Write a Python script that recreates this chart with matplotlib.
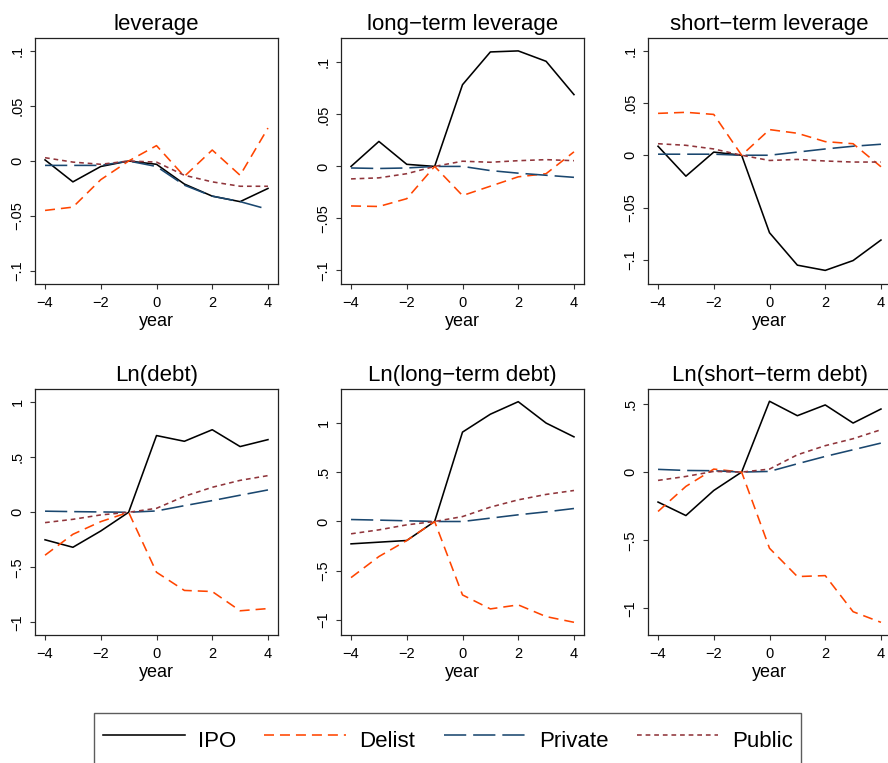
import matplotlib
matplotlib.use("Agg")
import matplotlib.pyplot as plt

plt.rcParams['font.family'] = ['Liberation Sans', 'DejaVu Sans']
plt.rcParams['lines.scale_dashes'] = False

years = [-4, -3, -2, -1, 0, 1, 2, 3, 4]
series_names = ["IPO", "Delist", "Private", "Public"]

# leverage
lev_ipo     = [0.001, -0.019, -0.005, 0.0, -0.003, -0.021, -0.032, -0.037, -0.025]
lev_delist  = [-0.045, -0.042, -0.017, 0.0, 0.014, -0.014, 0.010, -0.013, 0.030]
lev_private = [-0.004, -0.004, -0.004, 0.0, -0.005, -0.022, -0.032, -0.037, -0.044]
lev_public  = [0.003, -0.001, -0.003, 0.0, -0.001, -0.013, -0.019, -0.023, -0.023]

# long-term leverage
ltl_ipo     = [0.0, 0.024, 0.002, 0.0, 0.0785, 0.110, 0.111, 0.101, 0.069]
ltl_delist  = [-0.038, -0.0385, -0.031, 0.0, -0.028, -0.019, -0.010, -0.007, 0.014]
ltl_private = [-0.0015, -0.002, -0.0015, 0.0, 0.0, -0.004, -0.0065, -0.0085, -0.0105]
ltl_public  = [-0.012, -0.011, -0.007, 0.0, 0.005, 0.004, 0.0055, 0.0065, 0.0055]

# short-term leverage
stl_ipo     = [0.0086, -0.020, 0.003, 0.0, -0.074, -0.105, -0.110, -0.1006, -0.081]
stl_delist  = [0.040, 0.041, 0.039, 0.0, 0.0245, 0.021, 0.013, 0.011, -0.011]
stl_private = [0.001, 0.001, 0.001, 0.0, 0.0, 0.003, 0.006, 0.0086, 0.0105]
stl_public  = [0.011, 0.0095, 0.006, 0.0, -0.005, -0.004, -0.0055, -0.0065, -0.0065]

# Ln(debt)
ld_ipo     = [-0.25, -0.318, -0.17, 0.0, 0.697, 0.645, 0.75, 0.597, 0.66]
ld_delist  = [-0.39, -0.20, -0.085, 0.0, -0.545, -0.71, -0.72, -0.895, -0.875]
ld_private = [0.01, 0.006, 0.003, 0.0, 0.012, 0.06, 0.106, 0.155, 0.203]
ld_public  = [-0.094, -0.064, -0.024, 0.0, 0.036, 0.145, 0.227, 0.29, 0.333]

# Ln(long-term debt)
lld_ipo     = [-0.227, -0.21, -0.193, 0.0, 0.908, 1.09, 1.217, 1.0, 0.86]
lld_delist  = [-0.57, -0.356, -0.193, 0.0, -0.746, -0.888, -0.847, -0.966, -1.024]
lld_private = [0.02, 0.014, 0.007, 0.0, 0.0, 0.034, 0.068, 0.098, 0.132]
lld_public  = [-0.125, -0.085, -0.034, 0.0, 0.05, 0.146, 0.22, 0.275, 0.315]

# Ln(short-term debt)
lsd_ipo     = [-0.22, -0.319, -0.135, 0.0, 0.52, 0.414, 0.493, 0.36, 0.463]
lsd_delist  = [-0.289, -0.105, 0.022, 0.0, -0.559, -0.767, -0.76, -1.025, -1.103]
lsd_private = [0.02, 0.012, 0.01, 0.0, 0.005, 0.061, 0.115, 0.164, 0.213]
lsd_public  = [-0.061, -0.032, 0.005, 0.0, 0.022, 0.127, 0.194, 0.245, 0.311]

titles = ["leverage", "long\u2212term leverage", "short\u2212term leverage",
          "Ln(debt)", "Ln(long\u2212term debt)", "Ln(short\u2212term debt)"]

xticks = [-4, -2, 0, 2, 4]
xtick_labels = ["\u22124", "\u22122", "0", "2", "4"]
yticks_small = [-0.1, -0.05, 0, 0.05, 0.1]
ytick_labels_small = ["\u2212.1", "\u2212.05", "0", ".05", ".1"]
yticks_big = [-1, -0.5, 0, 0.5, 1]
ytick_labels_big = ["\u22121", "\u2212.5", "0", ".5", "1"]

panels = [
    (lev_ipo, lev_delist, lev_private, lev_public),
    (ltl_ipo, ltl_delist, ltl_private, ltl_public),
    (stl_ipo, stl_delist, stl_private, stl_public),
    (ld_ipo, ld_delist, ld_private, ld_public),
    (lld_ipo, lld_delist, lld_private, lld_public),
    (lsd_ipo, lsd_delist, lsd_private, lsd_public),
]

ylims = [(-0.112, 0.112), (-0.113, 0.1234), (-0.123, 0.112),
         (-1.115, 1.12), (-1.153, 1.346), (-1.196, 0.61)]

colors = ["#000000", "#FF4500", "#1A476F", "#90353B"]
dashes = [None, (7.2, 4.3), (16, 5), (3.4, 2.8)]
lw = 1.15

W, H = 888, 763
fig = plt.figure(figsize=(W / 100, H / 100), dpi=100)

col_left = [35, 341, 648]
row_top = [38, 389]
aw, ah = 243, 246

handles = []
for i, data in enumerate(panels):
    r, c = divmod(i, 3)
    left = col_left[c] / W
    bottom = 1 - (row_top[r] + ah) / H
    ax = fig.add_axes([left, bottom, aw / W, ah / H])
    for k, (vals, col, d) in enumerate(zip(data, colors, dashes)):
        ln, = ax.plot(years, vals, color=col, lw=lw, label=series_names[k])
        if d is not None:
            ln.set_dashes(d)
        if i == 0:
            handles.append(ln)
    ax.set_xlim(-4.36, 4.36)
    ax.set_xticks(xticks)
    ax.set_xticklabels(xtick_labels, fontsize=10.5)
    if r == 0:
        ax.set_yticks(yticks_small)
        ax.set_yticklabels(ytick_labels_small, fontsize=10.5, rotation=90, va='center')
    else:
        ax.set_yticks(yticks_big)
        ax.set_yticklabels(ytick_labels_big, fontsize=10.5, rotation=90, va='center')
    ax.set_ylim(*ylims[i])
    ax.tick_params(direction='out', length=3.6, width=0.8, color='#333333')
    ax.tick_params(axis='x', pad=5)
    ax.tick_params(axis='y', pad=4)
    for s in ax.spines.values():
        s.set_linewidth(0.9)
        s.set_color('#222222')
    ax.set_title(titles[i], fontsize=16, pad=6)
    ax.set_xlabel("year", fontsize=13, labelpad=2)

leg = fig.legend(handles=handles, labels=series_names, loc='upper left',
                 bbox_to_anchor=(94 / W, 1 - 713 / H), ncol=4, fontsize=16,
                 frameon=True, fancybox=False, edgecolor='#333333',
                 borderpad=0.4, handlelength=3.68, handletextpad=0.6,
                 columnspacing=1.27, handleheight=2.2, borderaxespad=0)
leg.get_frame().set_linewidth(1.0)

fig.savefig("out.png", dpi=100)
